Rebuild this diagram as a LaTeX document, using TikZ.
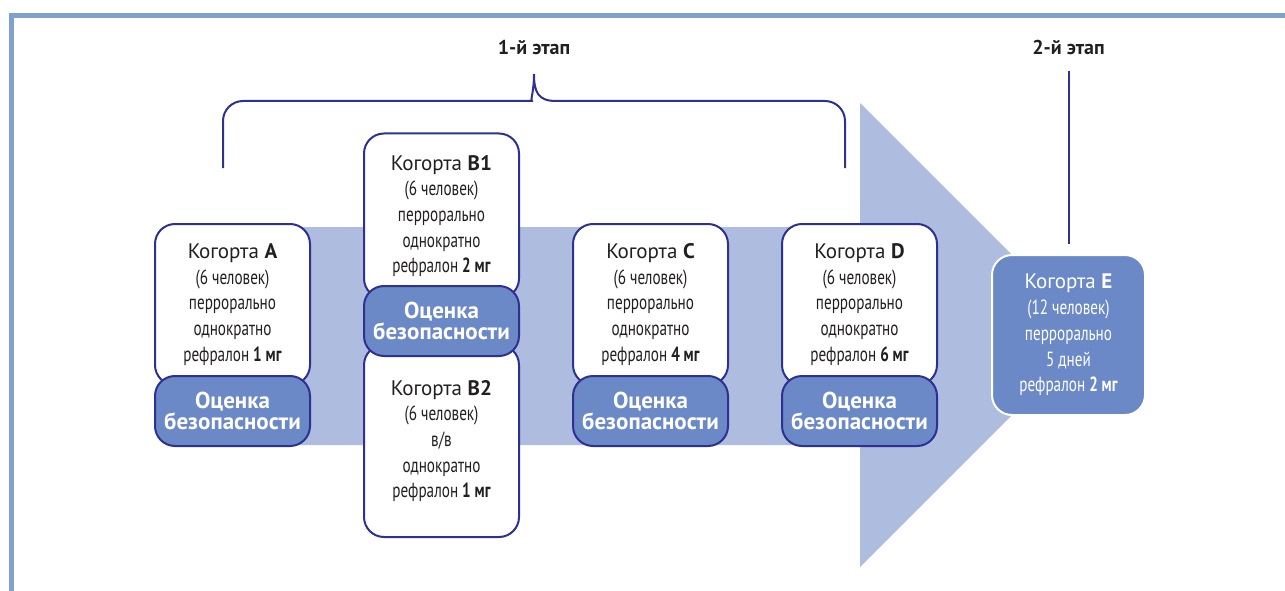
\documentclass[tikz,border=0pt]{standalone}
\usepackage{fontspec}
\setmainfont{PT Sans}
\newfontfamily\narrowfont[FakeStretch=0.74]{PT Sans}
\newcommand\cohorthead[1]{{\rmfamily\fontsize{21}{25.7}\selectfont Когорта \textbf{#1}}}
\definecolor{navy}{RGB}{46,49,146}
\definecolor{framecol}{RGB}{128,161,205}
\definecolor{shaft}{RGB}{174,188,224}
\definecolor{midblue}{RGB}{106,137,198}
\definecolor{ink}{RGB}{35,31,32}
\tikzset{
  cohort/.style={draw=navy, fill=white, line width=2pt, rounded corners=20pt, minimum width=155pt, inner sep=0pt, align=center, text=ink, font=\narrowfont\fontsize{20.5}{25.7}\selectfont},
  safety/.style={draw=navy, fill=midblue, line width=2pt, rounded corners=20pt, minimum width=155pt, minimum height=70pt, inner sep=0pt, align=center, text=white, font=\bfseries\fontsize{23}{21.5}\selectfont},
  stage/.style={text=ink, font=\bfseries\fontsize{20}{20}\selectfont},
  brace/.style={draw=navy, line width=2pt}
}
\begin{document}
\begin{tikzpicture}[x=1pt,y=-1pt]
  \useasboundingbox (0,0) rectangle (1285,591);
  \fill[framecol] (8.5,13) rectangle (1285,18.5);
  \fill[framecol] (8.5,13) rectangle (13.5,591);
  \fill[shaft] (232,227) -- (860,227) -- (860,103) -- (1092,335) -- (860,567) -- (860,445) -- (232,445) -- cycle;

  \node[stage] (stageI) at (534,48) {1-й этап};
  \node[stage] (stageII) at (1068.5,48) {2-й этап};
  \draw[brace, rounded corners=20pt] (223,168) |- (512,101) [sharp corners] .. controls (530,101) and (534,92) .. (534,74) .. controls (534,92) and (538,101) .. (556,101) [rounded corners=20pt] -| (845,168);

  \node[cohort, minimum height=161pt] (cohA) at (232.5,304.5) {\cohorthead{A}\\(6 человек)\\перрорально\\однократно\\рефралон \textbf{1 мг}};
  \node[cohort, minimum height=165pt] (cohB1) at (441.5,216) {\cohorthead{B1}\\(6 человек)\\перрорально\\однократно\\рефралон \textbf{2 мг}};
  \node[cohort, minimum height=192pt] (cohB2) at (441.5,441) {\cohorthead{B2}\\(6 человек)\\в/в\\однократно\\рефралон \textbf{1 мг}};
  \node[cohort, minimum height=161pt] (cohC) at (650.5,304.5) {\cohorthead{C}\\(6 человек)\\перрорально\\однократно\\рефралон \textbf{4 мг}};
  \node[cohort, minimum height=161pt] (cohD) at (859.5,304.5) {\cohorthead{D}\\(6 человек)\\перрорально\\однократно\\рефралон \textbf{6 мг}};

  \node[safety] (safeA) at (232.5,411) {Оценка\\безопасности};
  \node[safety] (safeB) at (441.5,321) {Оценка\\безопасности};
  \node[safety] (safeC) at (650.5,411) {Оценка\\безопасности};
  \node[safety] (safeD) at (859.5,411) {Оценка\\безопасности};

  \node[cohort, draw=white, fill=midblue, text=white, minimum width=153pt, minimum height=160pt] (cohE) at (1068.5,335) {\cohorthead{E}\\(12 человек)\\перрорально\\5 дней\\рефралон \textbf{2 мг}};
  \draw[brace, shorten <=12pt, shorten >=10pt] (stageII) -- (cohE);
\end{tikzpicture}
\end{document}
